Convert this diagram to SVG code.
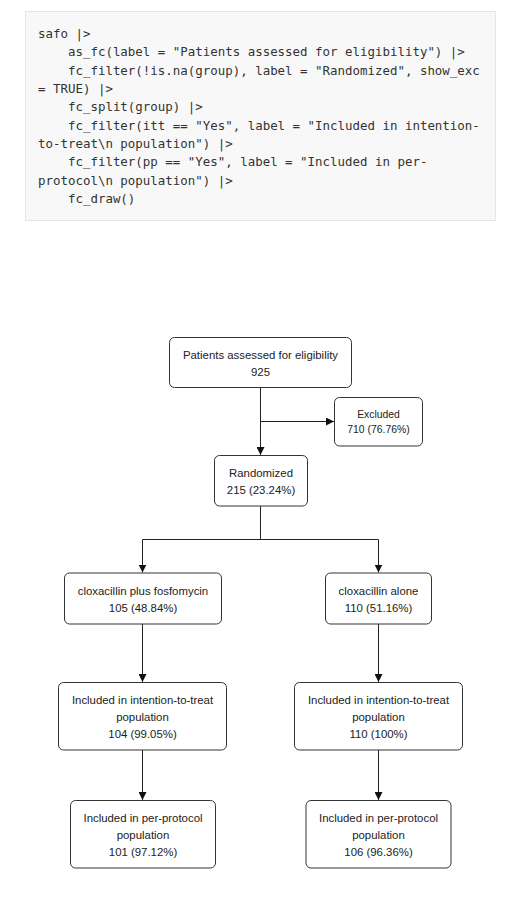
<svg xmlns="http://www.w3.org/2000/svg" width="514" height="911" viewBox="0 0 514 911">
<style>
.code{font-family:"DejaVu Sans Mono","Liberation Mono",monospace;font-size:12.45px;fill:#333;white-space:pre}
.box{fill:#fff;stroke:#333;stroke-width:1}
.lbl{font-family:"Liberation Sans",Arial,sans-serif;font-size:11.4px;fill:#222;text-anchor:middle}
.sm{font-size:10.4px}
.edge{stroke:#222;stroke-width:1;fill:none}
</style>
<defs>
<marker id="arr" viewBox="0 0 10 10" refX="10" refY="5" markerWidth="8" markerHeight="8" markerUnits="userSpaceOnUse" orient="auto">
<path d="M0,0 L10,5 L0,10 Z" fill="#111"/>
</marker>
</defs>
<rect width="514" height="911" fill="#fff"/>
<g id="code">
<rect x="25.5" y="11.5" width="470" height="209" fill="#f8f8f8" stroke="#e6e6e6"/>
<text class="code" x="38" y="38">safo |&gt;</text>
<text class="code" x="38" y="56.3">    as_fc(label = "Patients assessed for eligibility") |&gt;</text>
<text class="code" x="38" y="74.7">    fc_filter(!is.na(group), label = "Randomized", show_exc</text>
<text class="code" x="38" y="93">= TRUE) |&gt;</text>
<text class="code" x="38" y="111.3">    fc_split(group) |&gt;</text>
<text class="code" x="38" y="129.7">    fc_filter(itt == "Yes", label = "Included in intention-</text>
<text class="code" x="38" y="148">to-treat\n population") |&gt;</text>
<text class="code" x="38" y="166.3">    fc_filter(pp == "Yes", label = "Included in per-</text>
<text class="code" x="38" y="184.7">protocol\n population") |&gt;</text>
<text class="code" x="38" y="203">    fc_draw()</text>
</g>
<g id="connectors">
<path class="edge" d="M260.5,388 V455" marker-end="url(#arr)"/>
<path class="edge" d="M260.5,421.5 H334" marker-end="url(#arr)"/>
<path class="edge" d="M260.5,506 V539.5 H142.5 V572.5" marker-end="url(#arr)"/>
<path class="edge" d="M260.5,539.5 H378.5 V572.5" marker-end="url(#arr)"/>
<path class="edge" d="M142.5,624 V682" marker-end="url(#arr)"/>
<path class="edge" d="M378.5,624 V682" marker-end="url(#arr)"/>
<path class="edge" d="M142.5,750 V800" marker-end="url(#arr)"/>
<path class="edge" d="M378.5,750 V800" marker-end="url(#arr)"/>
</g>
<g id="assessed">
<rect class="box" x="169.5" y="337.5" width="182" height="50" rx="5"/>
<text class="lbl" x="260.5" y="359">Patients assessed for eligibility</text>
<text class="lbl" x="260.5" y="376">925</text>
</g>
<g id="excluded">
<rect class="box" x="334.5" y="397.5" width="88" height="48.5" rx="5"/>
<text class="lbl sm" x="378.5" y="418">Excluded</text>
<text class="lbl sm" x="378.5" y="433">710 (76.76%)</text>
</g>
<g id="randomized">
<rect class="box" x="214.5" y="455.5" width="93" height="50.5" rx="5"/>
<text class="lbl" x="261" y="477">Randomized</text>
<text class="lbl" x="261" y="494">215 (23.24%)</text>
</g>
<g id="group1">
<rect class="box" x="64.5" y="573" width="157" height="51" rx="5"/>
<text class="lbl" x="143" y="595">cloxacillin plus fosfomycin</text>
<text class="lbl" x="143" y="612">105 (48.84%)</text>
</g>
<g id="group2">
<rect class="box" x="325.5" y="573" width="106" height="51" rx="5"/>
<text class="lbl" x="378.5" y="595">cloxacillin alone</text>
<text class="lbl" x="378.5" y="612">110 (51.16%)</text>
</g>
<g id="itt1">
<rect class="box" x="58.5" y="682.5" width="168" height="67.5" rx="5"/>
<text class="lbl" x="142.5" y="704">Included in intention-to-treat</text>
<text class="lbl" x="142.5" y="721">population</text>
<text class="lbl" x="142.5" y="737.5">104 (99.05%)</text>
</g>
<g id="itt2">
<rect class="box" x="294.5" y="682.5" width="168" height="67.5" rx="5"/>
<text class="lbl" x="378.5" y="704">Included in intention-to-treat</text>
<text class="lbl" x="378.5" y="721">population</text>
<text class="lbl" x="378.5" y="737.5">110 (100%)</text>
</g>
<g id="pp1">
<rect class="box" x="70.5" y="800.5" width="145" height="67.5" rx="5"/>
<text class="lbl" x="143" y="822">Included in per-protocol</text>
<text class="lbl" x="143" y="838.5">population</text>
<text class="lbl" x="143" y="856">101 (97.12%)</text>
</g>
<g id="pp2">
<rect class="box" x="306" y="800.5" width="145" height="67.5" rx="5"/>
<text class="lbl" x="378.5" y="822">Included in per-protocol</text>
<text class="lbl" x="378.5" y="838.5">population</text>
<text class="lbl" x="378.5" y="856">106 (96.36%)</text>
</g>
</svg>
